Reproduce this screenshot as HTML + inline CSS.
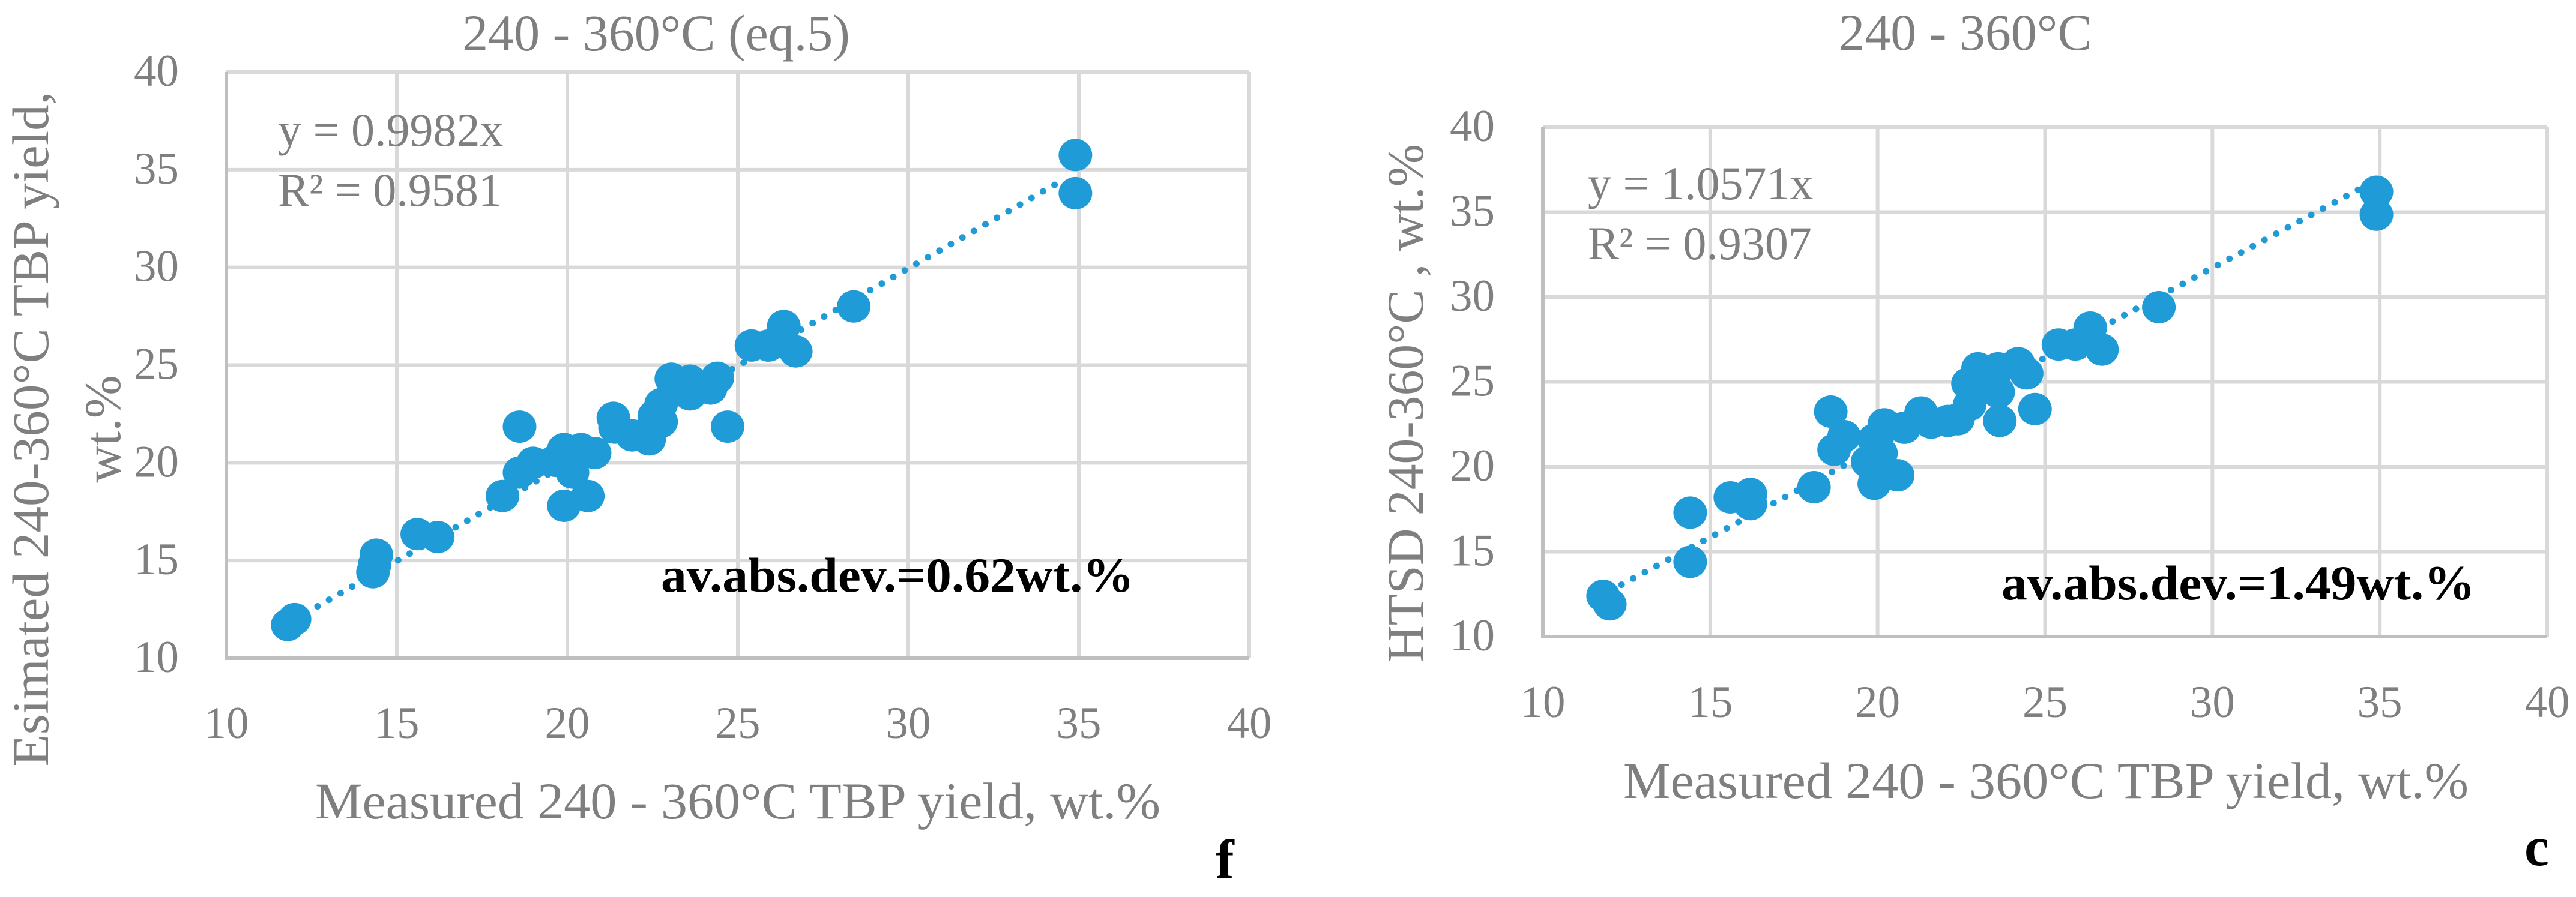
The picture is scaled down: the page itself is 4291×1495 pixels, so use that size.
<!DOCTYPE html>
<html><head><meta charset="utf-8">
<style>
html,body{margin:0;padding:0;background:#fff;}
svg{display:block;}
text{font-family:"Liberation Serif",serif;}
</style></head>
<body>
<svg id="fig" width="4291" height="1495" viewBox="0 0 4291 1495" xmlns="http://www.w3.org/2000/svg">
  <g id="chartF"></g>
  <g id="chartC"></g>
</svg>
<script>
const ticks = [10, 15, 20, 25, 30, 35, 40];
const xF = [11.8,12.0,14.3,14.4,14.35,15.6,16.2,18.1,18.6,18.6,19.0,19.9,19.9,19.65,20.15,20.4,20.6,20.8,21.35,21.4,21.9,22.4,22.55,22.75,22.75,23.05,23.6,23.6,24.2,24.4,24.7,25.4,25.9,26.35,26.7,28.4,34.9,34.9];
const yF = [11.7,12.0,14.4,15.3,14.8,16.35,16.2,18.3,21.85,19.5,20.0,17.8,20.7,20.1,19.5,20.7,18.3,20.5,22.3,21.8,21.4,21.2,22.4,23.0,22.1,24.3,23.5,24.2,23.8,24.35,21.85,26.0,26.0,27.0,25.7,28.0,35.75,33.8];
const xC = [11.8,12.0,14.4,14.4,15.6,16.2,16.2,18.1,18.6,18.7,19.0,19.9,19.7,19.9,20.1,20.2,20.6,20.8,21.3,21.6,22.1,22.4,22.7,22.75,23.0,23.6,23.6,23.65,24.2,24.45,24.7,25.4,25.9,26.35,26.7,28.4,34.9,34.9];
const yC = [12.4,11.9,14.4,17.3,18.2,18.4,17.8,18.8,23.25,21.0,21.8,19.0,20.3,21.6,20.8,22.5,19.5,22.3,23.2,22.6,22.7,22.8,24.9,23.65,25.8,25.8,24.4,22.7,26.1,25.5,23.4,27.2,27.2,28.2,26.9,29.4,36.2,34.85];
const slopeF = [0.9982];
const slopeC = [1.0571];
const NS = "http://www.w3.org/2000/svg";

function mk(parent, tag, attrs, txt){
  const e = document.createElementNS(NS, tag);
  for (const k in attrs) e.setAttribute(k, attrs[k]);
  if (txt !== undefined) e.textContent = txt;
  parent.appendChild(e);
  return e;
}

function drawChart(g, cfg, xs, ys, slope){
  const sx = v => cfg.x0 + (v - 10) / 30 * (cfg.x1 - cfg.x0);
  const sy = v => cfg.y0 - (v - 10) / 30 * (cfg.y0 - cfg.y1);
  // grid
  ticks.forEach(t => {
    const l1 = mk(g, 'line', {x1: sx(t), x2: sx(t), y1: cfg.y1, y2: cfg.y0, stroke: '#d9d9d9', 'stroke-width': 6});
    
    
    const l2 = mk(g, 'line', {x1: cfg.x0, x2: cfg.x1, y1: sy(t), y2: sy(t), stroke: '#d9d9d9', 'stroke-width': 6});
    
    
    const tx = mk(g, 'text', {x: sx(t), y: cfg.xTickY, 'font-size': 75, fill: '#7f7f7f', 'text-anchor': 'middle'}, t);
    
    
    const ty = mk(g, 'text', {x: cfg.yTickX, y: sy(t) + 23, 'font-size': 75, fill: '#7f7f7f', 'text-anchor': 'end'}, t);
    
    
  });
  const ax = mk(g, 'path', {d: `M${cfg.x0} ${cfg.y1} L${cfg.x0} ${cfg.y0} L${cfg.x1} ${cfg.y0}`, stroke: '#bfbfbf', 'stroke-width': 6, fill: 'none'});
  
  
  // trendline
  const tl = mk(g, 'line', {x1: sx(12), y1: sy(12 * slope[0]), x2: sx(cfg.tEnd), y2: sy(cfg.tEnd * slope[0]), stroke: '#1f9bd7', 'stroke-width': 11, 'stroke-linecap': 'round', 'stroke-dasharray': '0.1 22'});
  
  
  // points
  xs.forEach((v, i) => {
    const c = mk(g, 'ellipse', {cx: sx(v), cy: sy(ys[i]), rx: 28, ry: 27, fill: '#1f9bd7'});
    
    
  });
  // texts
  const t1 = mk(g, 'text', {x: cfg.titleX, y: cfg.titleY, 'font-size': 86, fill: '#7f7f7f', 'text-anchor': 'middle'}, cfg.title);
  
  
  const e1 = mk(g, 'text', {x: cfg.eqX, y: cfg.eqY, 'font-size': 78, fill: '#7f7f7f'}, cfg.eq);
  
  
  const e2 = mk(g, 'text', {x: cfg.eqX, y: cfg.eqY + 100, 'font-size': 78, fill: '#7f7f7f'}, cfg.r2);
  
  
  const d = mk(g, 'text', {x: cfg.devX, y: cfg.devY, 'font-size': 82, 'font-weight': 'bold', fill: '#000', textLength: cfg.devW, lengthAdjust: 'spacingAndGlyphs'}, cfg.dev);
  
  
  const xt = mk(g, 'text', {x: cfg.xtX, y: cfg.xtY, 'font-size': 86, fill: '#7f7f7f', textLength: cfg.xtW, lengthAdjust: 'spacingAndGlyphs'}, 'Measured 240 - 360°C TBP yield, wt.%');
  
  
  cfg.ytLines.forEach(L => {
    const yt = mk(g, 'text', {x: 0, y: 0, 'font-size': 86, fill: '#7f7f7f', 'text-anchor': 'middle', transform: `translate(${L.x},${L.y}) rotate(-90)`}, L.t);
    if (L.w) { yt.setAttribute('textLength', L.w); yt.setAttribute('lengthAdjust', 'spacingAndGlyphs'); }
    
    
  });
  const p = mk(g, 'text', {x: cfg.panX, y: cfg.panY, 'font-size': 92, 'font-weight': 'bold', fill: '#000'}, cfg.pan);
  
  
}

drawChart(document.getElementById('chartF'), {
  x0: 377, x1: 2081, y0: 1097, y1: 120, xTickY: 1230, yTickX: 298, tEnd: 34.6,
  title: '240 - 360°C (eq.5)', titleX: 1093, titleY: 84,
  eq: 'y = 0.9982x', r2: 'R² = 0.9581', eqX: 463, eqY: 243,
  dev: 'av.abs.dev.=0.62wt.%', devX: 1101, devY: 986, devW: 788,
  xtX: 525, xtY: 1364, xtW: 1408,
  ytLines: [{t: 'Esimated 240-360°C TBP yield,', x: 80, y: 715, w: 1125}, {t: 'wt.%', x: 200, y: 715}],
  pan: 'f', panX: 2025, panY: 1463
}, xF, yF, slopeF);

drawChart(document.getElementById('chartC'), {
  x0: 2570, x1: 4243, y0: 1061, y1: 212, xTickY: 1195, yTickX: 2490, tEnd: 34.6,
  title: '240 - 360°C', titleX: 3274, titleY: 83,
  eq: 'y = 1.0571x', r2: 'R² = 0.9307', eqX: 2645, eqY: 332,
  dev: 'av.abs.dev.=1.49wt.%', devX: 3334, devY: 999, devW: 789,
  xtX: 2704, xtY: 1330, xtW: 1408,
  ytLines: [{t: 'HTSD 240-360°C , wt.%', x: 2370, y: 672, w: 864}],
  pan: 'c', panX: 4205, panY: 1442
}, xC, yC, slopeC);
</script>
</body></html>
